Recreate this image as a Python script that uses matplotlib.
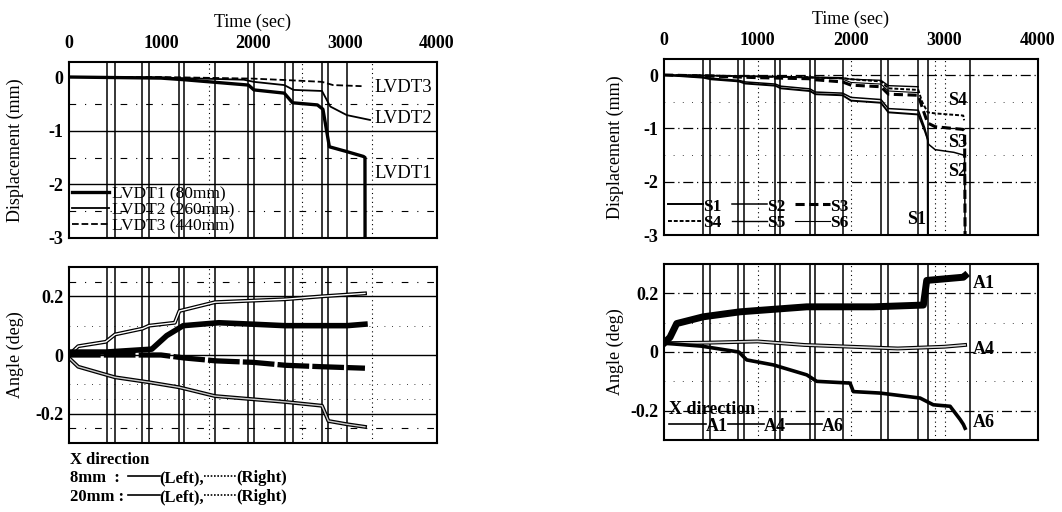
import numpy as np
import matplotlib
matplotlib.use('Agg')
import matplotlib.pyplot as plt
import matplotlib.patheffects as pe
from matplotlib.lines import Line2D

plt.rcParams['font.family'] = ['Liberation Serif', 'DejaVu Serif']
plt.rcParams['font.weight'] = 'bold'
plt.rcParams['axes.unicode_minus'] = False

# ---- data (time in sec) ----
# top left: vertical displacement of LVDTs (mm)
lvdt1_t = [0, 500, 1000, 1250, 1600, 1950, 2010, 2340, 2430, 2700, 2760, 2800, 2830, 3020, 3200, 3217, 3218]
lvdt1 = [0, -0.01, -0.02, -0.05, -0.1, -0.15, -0.24, -0.3, -0.48, -0.52, -0.6, -1.0, -1.3, -1.39, -1.48, -1.5, -3.0]
lvdt2_t = [0, 1000, 1900, 2010, 2340, 2440, 2750, 2840, 3020, 3272]
lvdt2 = [0, -0.01, -0.05, -0.09, -0.15, -0.24, -0.26, -0.55, -0.71, -0.8]
lvdt3_t = [0, 1000, 2000, 2400, 2750, 2870, 3180]
lvdt3 = [0, 0, -0.03, -0.06, -0.09, -0.15, -0.17]

# bottom left: X direction rotation (deg)
ang8L_t = [0, 400, 900, 1062, 1241, 1628, 2000, 2348, 2750, 3020, 3217]
ang8L = [0.01, 0.01, 0.02, 0.066, 0.1, 0.11, 0.105, 0.1, 0.1, 0.1, 0.105]
ang8R_t = [0, 1000, 1250, 1600, 2000, 2350, 2750, 3217]
ang8R = [0.0, 0.0, -0.01, -0.02, -0.025, -0.035, -0.04, -0.045]
ang20L_t = [0, 100, 400, 500, 800, 870, 1150, 1200, 1587, 2348, 2750, 3217]
ang20L = [0, 0.03, 0.045, 0.07, 0.09, 0.1, 0.11, 0.15, 0.18, 0.19, 0.2, 0.21]
ang20R_t = [0, 100, 500, 870, 1196, 1587, 2348, 2750, 2820, 3020, 3217]
ang20R = [-0.01, -0.04, -0.076, -0.093, -0.11, -0.14, -0.16, -0.173, -0.225, -0.236, -0.245]

# top right: slip S1..S6 (mm)
s1_t = [0, 420, 500, 800, 870, 1190, 1250, 1560, 1620, 1910, 2000, 2320, 2400, 2720, 2790, 2820, 2822]
s1 = [0, -0.05, -0.08, -0.12, -0.16, -0.2, -0.25, -0.3, -0.36, -0.38, -0.48, -0.52, -0.7, -0.74, -1.05, -1.2, -3.0]
s2_t = [0, 420, 500, 800, 870, 1190, 1250, 1560, 1620, 1910, 2000, 2320, 2400, 2720, 2790, 2830, 2900, 3100, 3200, 3215, 3220]
s2 = [0, -0.04, -0.06, -0.1, -0.13, -0.17, -0.21, -0.26, -0.32, -0.34, -0.42, -0.46, -0.63, -0.66, -1.0, -1.3, -1.4, -1.45, -1.5, -1.55, -3.0]
s3_t = [0, 500, 1000, 1550, 1620, 1910, 2000, 2320, 2400, 2720, 2760, 2820, 2900, 3200, 3215, 3220]
s3 = [0, -0.02, -0.05, -0.07, -0.09, -0.13, -0.19, -0.22, -0.36, -0.38, -0.6, -0.9, -0.97, -1.02, -1.05, -3.0]
s4_t = [0, 500, 1000, 1550, 1620, 1910, 2000, 2320, 2400, 2720, 2760, 2820, 2900, 3200, 3210]
s4 = [0, -0.01, -0.03, -0.04, -0.05, -0.06, -0.08, -0.12, -0.25, -0.28, -0.5, -0.7, -0.72, -0.76, -0.85]
s5_t = [0, 1000, 1900, 2000, 2320, 2400, 2717]
s5 = [0, -0.02, -0.05, -0.08, -0.1, -0.2, -0.22]
s6_t = [0, 1000, 1900, 2000, 2320, 2400, 2717]
s6 = [0, -0.03, -0.07, -0.14, -0.17, -0.3, -0.33]

# bottom right: rotation A1, A4, A6 (deg)
a1_t = [0, 64, 136, 420, 813, 1527, 2240, 2774, 2810, 3202, 3220]
a1 = [0.03, 0.05, 0.097, 0.12, 0.137, 0.154, 0.154, 0.16, 0.244, 0.255, 0.26]
a4_t = [0, 500, 1000, 1500, 2000, 2500, 3000, 3220]
a4 = [0.03, 0.032, 0.036, 0.024, 0.018, 0.012, 0.018, 0.024]
a6_t = [0, 400, 800, 885, 1170, 1527, 1634, 1990, 2025, 2311, 2739, 2880, 3060, 3167, 3202, 3220]
a6 = [0.03, 0.02, 0.0, -0.027, -0.044, -0.078, -0.1, -0.106, -0.135, -0.14, -0.157, -0.18, -0.185, -0.23, -0.247, -0.26]

# loading event markers (sec)
left_events = [415, 500, 795, 870, 1200, 1250, 1590, 1950, 2015, 2348, 2430, 2750, 2820, 3020]
left_dotted = [1520, 2530, 3290]
right_events = [420, 492, 791, 860, 1187, 1241, 1560, 1615, 1914, 2321, 2396, 2717, 2824, 3273]
right_dotted = [1000, 2000, 2900, 3005]

time_ticks = [0, 1000, 2000, 3000, 4000]

FS = 13
fig = plt.figure(figsize=(10.62, 5.12), dpi=100)


def px_axes(l, t, r, b):
    return fig.add_axes([l / 1062, 1 - b / 512, (r - l) / 1062, (b - t) / 512])


def setup(ax, ylim, yticks, top, label_x):
    ax.set_xlim(0, 4000)
    ax.set_ylim(*ylim)
    ax.set_xticks(time_ticks)
    ax.set_yticks(yticks)
    ax.set_yticklabels([('%g' % v) for v in yticks])
    ax.tick_params(length=0, labelsize=FS, pad=4)
    if top:
        ax.xaxis.tick_top()
        ax.xaxis.set_label_position('top')
        ax.tick_params(axis='x', pad=7)
        ax.set_xlabel('Time (sec)', fontsize=FS, labelpad=6)
    else:
        ax.set_xticklabels([])
    for sp in ax.spines.values():
        sp.set_linewidth(1.5)
    ax.yaxis.set_label_coords(label_x, 0.5)


def events(ax, solid, dotted):
    for t in solid:
        ax.axvline(t, color='k', lw=1.1, zorder=1)
    for t in dotted:
        ax.axvline(t, color='k', lw=0.8, ls=(0, (1, 3)), zorder=1)


hollow = [pe.Stroke(linewidth=2.8, foreground='k'), pe.Normal()]
lk = dict(color='k', lw=1.2)

# ---- top left ----
ax = px_axes(69, 62, 437, 238)
setup(ax, (-3, 0.28), [0, -1, -2, -3], True, -0.122)
ax.set_ylabel('Displacement (mm)', fontsize=FS)
for y in [-1, -2]:
    ax.axhline(y, color='k', lw=1.0, zorder=1)
for y in [-0.5, -1.5, -2.5]:
    ax.axhline(y, color='k', lw=0.8, ls=(0, (6, 8, 1, 8)), zorder=1)
events(ax, left_events, left_dotted)
ax.plot(lvdt1_t, lvdt1, color='k', lw=2.4, label='LVDT1 (80mm)')
ax.plot(lvdt2_t, lvdt2, color='k', lw=1.3, label='LVDT2 (260mm)')
ax.plot(lvdt3_t, lvdt3, color='k', lw=1.3, ls='--', label='LVDT3 (440mm)')
ax.text(3320, -0.2, 'LVDT3', fontsize=13.5, weight='normal', va='center')
ax.text(3320, -0.77, 'LVDT2', fontsize=13.5, weight='normal', va='center')
ax.text(3320, -1.8, 'LVDT1', fontsize=13.5, weight='normal', va='center')
ax.legend(loc='lower left', frameon=False, prop={'size': 12.5, 'weight': 'normal'},
          handlelength=2.1, handletextpad=0.15, labelspacing=0.0,
          borderpad=0.05, borderaxespad=0.15)

# ---- bottom left ----
ax = px_axes(69, 267, 437, 443)
setup(ax, (-0.3, 0.3), [0.2, 0, -0.2], False, -0.122)
ax.set_ylabel('Angle (deg)', fontsize=FS)
for y in [0.2, 0, -0.2]:
    ax.axhline(y, color='k', lw=1.0, zorder=1)
for y in [0.25, -0.25]:
    ax.axhline(y, color='k', lw=0.8, ls=(0, (6, 8, 1, 8)), zorder=1)
for y in [0.1, -0.1, -0.15]:
    ax.axhline(y, color='k', lw=0.6, ls=(0, (1, 8)), zorder=1)
events(ax, left_events, left_dotted)
ax.plot(ang20L_t, ang20L, color='w', lw=1.0, path_effects=hollow)
ax.plot(ang20R_t, ang20R, color='0.8', lw=1.0, path_effects=hollow)
ax.plot(ang8L_t, ang8L, color='k', lw=4.0)
ax.plot(ang8R_t, ang8R, color='k', lw=3.8, ls=(0, (6, 0.6)))

# key below the angle plot, one legend per row
fig.text(70 / 1062, 1 - 460 / 512, 'X direction', fontsize=12, va='center')
for row_y, row_name in [(478, '8mm  :'), (497, '20mm :')]:
    fig.text(70 / 1062, 1 - row_y / 512, row_name, fontsize=12, va='center')
    fig.legend([Line2D([], [], **lk), Line2D([], [], ls=(0, (1, 1)), **lk)],
               ['(Left),', '(Right)'], ncol=2, loc='center left',
               bbox_to_anchor=(128 / 1062, 1 - row_y / 512), frameon=False, fontsize=12,
               handlelength=1.9, handletextpad=0, columnspacing=0,
               borderpad=0, borderaxespad=0)

# ---- top right ----
ax = px_axes(664, 59, 1038, 235)
setup(ax, (-3, 0.3), [0, -1, -2, -3], True, -0.107)
ax.set_ylabel('Displacement (mm)', fontsize=FS)
for y in [0, -1, -2]:
    ax.axhline(y, color='k', lw=0.9, ls=(0, (8, 3, 1, 3)), zorder=1)
for y in [-0.5, -1.5]:
    ax.axhline(y, color='k', lw=0.6, ls=(0, (1, 10)), zorder=1)
events(ax, right_events, right_dotted)
h1, = ax.plot(s1_t, s1, color='k', lw=1.4, label='S1')
h2, = ax.plot(s2_t, s2, color='k', lw=1.1, label='S2')
h3, = ax.plot(s3_t, s3, color='k', lw=2.2, ls=(0, (3, 1.5)), label='S3')
h4, = ax.plot(s4_t, s4, color='k', lw=1.4, ls=(0, (2, 1)), label='S4')
h5, = ax.plot(s5_t, s5, color='k', lw=1.0, label='S5')
h6, = ax.plot(s6_t, s6, color='k', lw=0.8, label='S6')
ax.text(3040, -0.47, 'S4', fontsize=FS, va='center')
ax.text(3040, -1.27, 'S3', fontsize=FS, va='center')
ax.text(3040, -1.8, 'S2', fontsize=FS, va='center')
ax.text(2600, -2.7, 'S1', fontsize=FS, va='center')
ax.legend([h1, h4, h2, h5, h3, h6], ['S1', 'S4', 'S2', 'S5', 'S3', 'S6'], ncol=3,
          loc='lower left', frameon=False, fontsize=12.5, handlelength=2.0,
          handletextpad=0, columnspacing=0.6, labelspacing=0.0,
          borderpad=0.05, borderaxespad=0.2)

# ---- bottom right ----
ax = px_axes(664, 264, 1038, 440)
setup(ax, (-0.3, 0.3), [0.2, 0, -0.2], False, -0.107)
ax.set_ylabel('Angle (deg)', fontsize=FS)
for y in [0.2, 0, -0.2]:
    ax.axhline(y, color='k', lw=0.9, ls=(0, (8, 3, 1, 3)), zorder=1)
for y in [0.1, -0.1]:
    ax.axhline(y, color='k', lw=0.6, ls=(0, (1, 10)), zorder=1)
events(ax, right_events, right_dotted)
ax.plot(a4_t, a4, color='0.85', lw=1.2, path_effects=hollow, label='A4')
ax.plot(a6_t, a6, color='k', lw=2.6, label='A6')
ax.plot(a1_t, a1, color='k', lw=5.0, label='A1')
ax.text(3300, 0.234, 'A1', fontsize=FS, va='center')
ax.text(3300, 0.007, 'A4', fontsize=FS, va='center')
ax.text(3300, -0.24, 'A6', fontsize=FS, va='center')
ax.legend([Line2D([], [], **lk), Line2D([], [], **lk), Line2D([], [], **lk)],
          ['A1', 'A4', 'A6'], ncol=3, loc='lower left', frameon=False,
          fontsize=FS, title='X direction', title_fontsize=FS, alignment='left',
          handlelength=2.0, handletextpad=0, columnspacing=0, labelspacing=0,
          borderpad=0.1, borderaxespad=0.2)

fig.savefig('out.png', dpi=100)
